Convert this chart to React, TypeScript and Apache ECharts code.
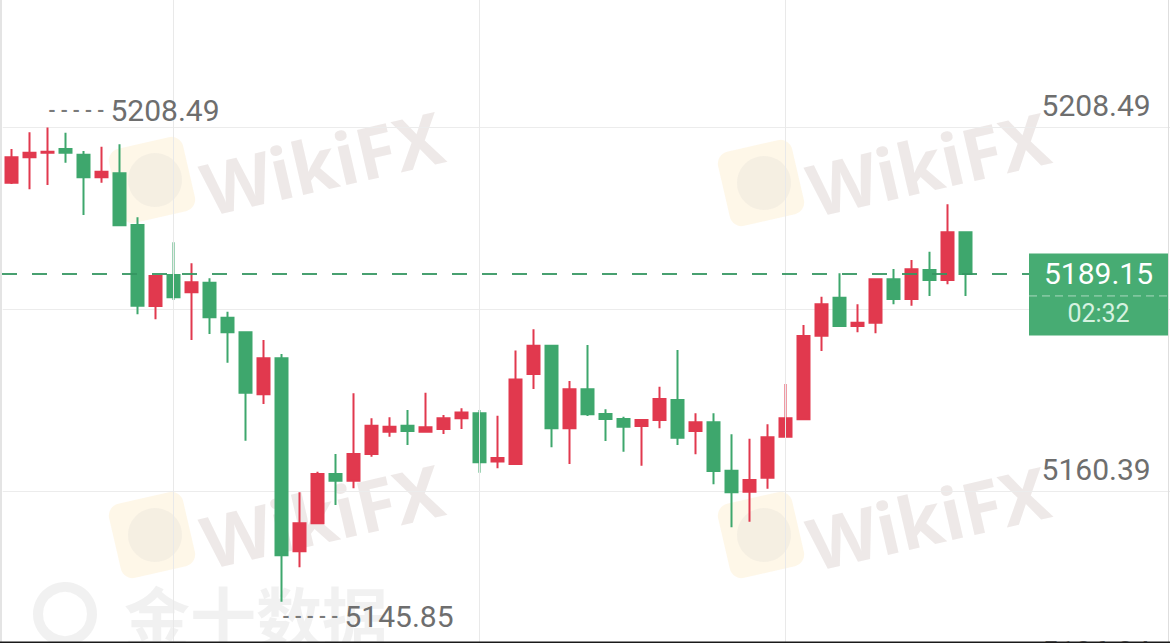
import React, { useEffect, useRef } from "react";
import * as echarts from "echarts";

// ---- data ----
const opens = [
  5201.2, 5204.55, 5205.16, 5205.65, 5204.9, 5201.91, 5202.44, 5195.61, 5184.92, 5189.01,
  5186.73, 5187.99, 5183.37, 5181.44, 5173.25, 5178.01, 5152.52, 5156.22, 5162.73, 5161.84,
  5165.37, 5168.31, 5169.11, 5168.31, 5168.67, 5170.08, 5170.74, 5164.38, 5164.05, 5175.94,
  5179.67, 5168.76, 5173.91, 5170.65, 5169.99, 5169.07, 5169.86, 5172.5, 5168.41, 5169.56,
  5163.16, 5160.39, 5162.24, 5167.65, 5169.95, 5180.99, 5186.01, 5182.27, 5182.71, 5188.44,
  5185.84, 5189.67, 5188.35, 5194.65,
];
const closes = [
  5204.55, 5205.16, 5205.29, 5205.16, 5201.91, 5202.65, 5195.57, 5184.96, 5188.88, 5186.07,
  5188.05, 5183.42, 5181.44, 5173.47, 5178.01, 5151.99, 5156.22, 5162.73, 5161.84, 5165.37,
  5169.11, 5168.97, 5168.41, 5168.9, 5170.08, 5170.85, 5164.27, 5164.84, 5175.21, 5179.67,
  5168.76, 5173.91, 5170.61, 5169.99, 5168.97, 5169.86, 5172.63, 5167.52, 5169.56, 5163.12,
  5160.31, 5161.94, 5167.58, 5170.08, 5180.95, 5185.14, 5182.27, 5182.71, 5188.44, 5185.84,
  5189.76, 5188.35, 5194.65, 5189.15,
];
const lows = [
  5201.03, 5200.33, 5200.9, 5203.84, 5196.93, 5201.2, 5195.57, 5183.82, 5183.16, 5185.71,
  5180.43, 5181.22, 5177.43, 5167.13, 5171.97, 5145.85, 5150.41, 5156.22, 5158.63, 5160.84,
  5165.01, 5167.65, 5166.56, 5168.31, 5168.01, 5168.67, 5162.9, 5163.48, 5164.05, 5173.95,
  5166.25, 5164.05, 5170.39, 5167.09, 5165.67, 5163.82, 5168.76, 5166.56, 5165.33, 5161.37,
  5155.69, 5156.43, 5160.79, 5167.65, 5169.86, 5178.97, 5182.27, 5181.44, 5181.31, 5185.14,
  5184.96, 5186.24, 5187.78, 5186.24,
];
const highs = [
  5205.65, 5207.86, 5208.49, 5207.8, 5205.39, 5205.95, 5206.27, 5196.63, 5188.88, 5193.33,
  5190.56, 5188.57, 5184.16, 5181.52, 5180.43, 5178.58, 5160.31, 5163.03, 5165.37, 5173.39,
  5170.08, 5170.22, 5171.18, 5173.47, 5170.52, 5171.41, 5171.18, 5170.43, 5179.04, 5181.84,
  5179.67, 5175.01, 5179.77, 5171.27, 5170.3, 5169.86, 5174.26, 5179.1, 5170.74, 5170.74,
  5167.97, 5167.39, 5169.29, 5174.61, 5182.41, 5186.14, 5189.23, 5185.14, 5188.57, 5189.8,
  5190.99, 5192.09, 5198.35, 5194.65,
];
// candle slots plus empty slots on the right (future time)
const emptySlots = 11;
const categories = Array.from({ length: opens.length + emptySlots }, (_, i) => String(i + 1));
const gridLineCategories = [categories[9], categories[26], categories[43]];
const yTickValues = [5136.34, 5160.39, 5184.44, 5208.49, 5232.54];
const countdown = "02:32";

const UP = "#e1394e";
const DOWN = "#3ea76d";
const FONT = "Roboto, 'Noto Sans', sans-serif";

export default function App() {
  const ref = useRef<HTMLDivElement>(null);
  useEffect(() => {
    if (!ref.current) return;
    const chart = echarts.init(ref.current, null, { renderer: "svg" });
    const candles = opens.map((o, i) => [o, closes[i], lows[i], highs[i]]);
    let maxIdx = 0;
    let minIdx = 0;
    highs.forEach((h, i) => { if (h > highs[maxIdx]) maxIdx = i; });
    lows.forEach((l, i) => { if (l < lows[minIdx]) minIdx = i; });
    const last = closes[closes.length - 1];
    const yMin = yTickValues[0];
    const yMax = yTickValues[yTickValues.length - 1];
    const yInterval = yTickValues[1] - yTickValues[0];

    const option: any = {
      animation: false,
      backgroundColor: "#ffffff",
      grid: {
        left: 2.7,
        width: 18 * categories.length,
        top: -54.6,
        height: 728.4,
        containLabel: false,
        outerBoundsMode: "none",
      },
      xAxis: {
        type: "category",
        data: categories,
        boundaryGap: true,
        show: false,
      },
      yAxis: {
        type: "value",
        position: "right",
        min: yMin,
        max: yMax,
        interval: yInterval,
        scale: true,
        axisLine: { show: false },
        axisTick: { show: false },
        splitLine: { show: true, lineStyle: { color: "#ececec", width: 1 } },
        axisLabel: {
          inside: true,
          margin: 22,
          color: "#6e6e6e",
          fontSize: 30,
          fontFamily: FONT,
          verticalAlign: "middle",
          lineHeight: 45,
          formatter: (v: number) => v.toFixed(2) + "\n ",
        },
      },
      series: [
        {
          type: "line",
          data: [],
          z: 1,
          silent: true,
          markLine: {
            silent: true,
            symbol: ["none", "none"],
            label: { show: false },
            lineStyle: { color: "#e9e9e9", type: "solid", width: 1 },
            data: gridLineCategories.map((c) => ({ xAxis: c })),
          },
        },
        {
          type: "candlestick",
          data: candles,
          z: 3,
          barWidth: 13,
          itemStyle: {
            color: UP,
            color0: DOWN,
            borderColor: UP,
            borderColor0: DOWN,
            borderWidth: 2,
          },
          markPoint: {
            symbol: "circle",
            symbolSize: 1,
            itemStyle: { color: "rgba(0,0,0,0)" },
            label: {
              show: true,
              position: "right",
              distance: 0,
              formatter: (p: any) => `{d|- - - - -}{v|${Number(p.value).toFixed(2)}}`,
              rich: {
                d: { fontSize: 19, color: "#7a7a7a", fontFamily: FONT, fontWeight: "bold", verticalAlign: "middle" },
                v: { fontSize: 30, color: "#6e6e6e", fontFamily: FONT, padding: [0, 0, 0, 6], verticalAlign: "middle" },
              },
            },
            data: [
              { coord: [categories[maxIdx], highs[maxIdx]], value: highs[maxIdx], label: { offset: [0, -17.5] } },
              { coord: [categories[minIdx], lows[minIdx]], value: lows[minIdx], label: { offset: [0, 15] } },
            ],
          },
        },
      ],
    };
    chart.setOption(option);

    const yPix = chart.convertToPixel({ yAxisIndex: 0 }, last) as number;
    const wmText = "rgba(185,165,160,0.24)";
    const wmBox = "rgba(252,236,200,0.42)";
    const wmEagle = "rgba(200,200,200,0.16)";
    const rot = (13 * Math.PI) / 180;
    const wikiMarks = [
      { lx: 152, ly: 180, tx: 322, ty: 162 },
      { lx: 761, ly: 183, tx: 928, ty: 163 },
      { lx: 152, ly: 535, tx: 322, ty: 515 },
      { lx: 761, ly: 535, tx: 928, ty: 517 },
    ];
    const graphics: any[] = [];
    wikiMarks.forEach((m) => {
      graphics.push({
        type: "rect", x: m.lx, y: m.ly, rotation: rot, z: -10, silent: true,
        shape: { x: -38, y: -38, width: 76, height: 76, r: 12 },
        style: { fill: wmBox },
      });
      graphics.push({
        type: "circle", x: m.lx, y: m.ly, z: -9, silent: true,
        shape: { cx: 3, cy: 0, r: 27 },
        style: { fill: wmEagle },
      });
      graphics.push({
        type: "text", x: m.tx, y: m.ty, rotation: rot, z: -9, silent: true,
        style: {
          text: "WikiFX", fill: wmText, fontSize: 72, fontWeight: "bold",
          fontFamily: "'Noto Sans', sans-serif", align: "center", verticalAlign: "middle",
        },
      });
    });
    graphics.push(
      {
        type: "circle", x: 65, y: 614, z: -9, silent: true,
        shape: { cx: 0, cy: 0, r: 27 },
        style: { fill: "none", stroke: "rgba(200,200,200,0.25)", lineWidth: 10 },
      },
      {
        type: "text", x: 256, y: 614, z: -9, silent: true,
        style: {
          text: "金十数据", fill: "rgba(200,200,200,0.25)", fontSize: 66, fontWeight: "bold",
          fontFamily: "'Noto Sans CJK SC', sans-serif", align: "center", verticalAlign: "middle",
        },
      },
      {
        type: "line", z: 50, silent: true,
        shape: { x1: 2, y1: yPix, x2: 1029, y2: yPix },
        style: { stroke: "rgba(52,150,96,0.9)", lineWidth: 2, lineDash: [15, 15] },
      },
      {
        type: "rect", z: 60, silent: true,
        shape: { x: 1029, y: yPix - 20.5, width: 139.5, height: 82 },
        style: { fill: "#47ac73" },
      },
      {
        type: "line", z: 61, silent: true,
        shape: { x1: 1029, y1: yPix + 22, x2: 1168, y2: yPix + 22 },
        style: { stroke: "rgba(255,255,255,0.55)", lineWidth: 1, lineDash: [8, 5] },
      },
      {
        type: "text", z: 62, silent: true, x: 1098.5, y: yPix,
        style: {
          text: last.toFixed(2), fill: "#ffffff", fontSize: 30, fontFamily: FONT,
          align: "center", verticalAlign: "middle",
        },
      },
      {
        type: "text", z: 62, silent: true, x: 1098.5, y: yPix + 40,
        style: {
          text: countdown, fill: "#d6f2e0", fontSize: 25, fontFamily: FONT,
          align: "center", verticalAlign: "middle",
        },
      },
      {
        type: "line", z: 70, silent: true,
        shape: { x1: 1, y1: 0, x2: 1, y2: 643 },
        style: { stroke: "#e4e4e4", lineWidth: 2 },
      },
      {
        type: "line", z: 70, silent: true,
        shape: { x1: 1168.5, y1: 0, x2: 1168.5, y2: 643 },
        style: { stroke: "#dedede", lineWidth: 1 },
      },
      {
        type: "rect", z: 70, silent: true,
        shape: { x: 0, y: 641.5, width: 1170, height: 1.5 },
        style: { fill: "#1a1a1a" },
      }
    );
    chart.setOption({ graphic: graphics });

    return () => chart.dispose();
  }, []);

  return (
    <div
      ref={ref}
      style={{ position: "absolute", left: 0, top: 0, width: 1170, height: 643, overflow: "hidden" }}
    />
  );
}
